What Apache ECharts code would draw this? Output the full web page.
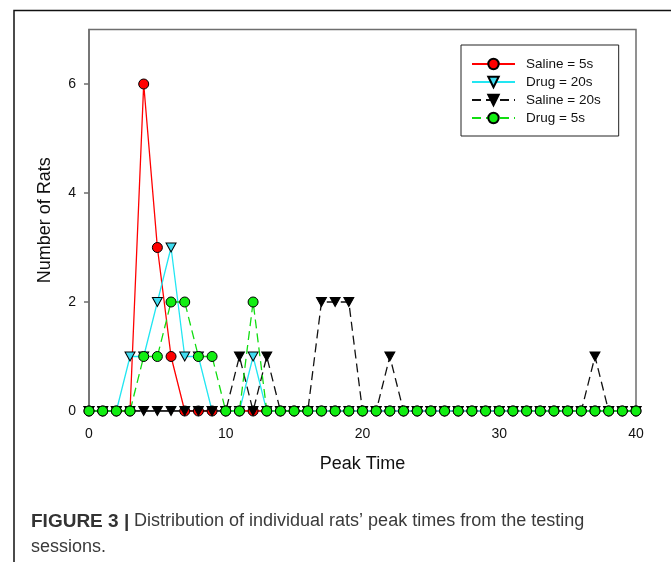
<!DOCTYPE html>
<html>
<head>
<meta charset="utf-8">
<script src="https://cdn.jsdelivr.net/npm/echarts@6/dist/echarts.min.js"></script>
<style>
html,body{margin:0;padding:0;background:#fff;}
#chart{width:671px;height:562px;}
</style>
</head>
<body>
<div id="chart"></div>
<script>
// Data
var peakTimes = [0,1,2,3,4,5,6,7,8,9,10,11,12,13,14,15,16,17,18,19,20,21,22,23,24,25,26,27,28,29,30,31,32,33,34,35,36,37,38,39,40];
var saline5  = [0,0,0,0,6,3,1,0,0,0, 0,0,0,0,0,0,0,0,0,0, 0,0,0,0,0,0,0,0,0,0, 0,0,0,0,0,0,0,0,0,0, 0];
var drug20   = [0,0,0,1,1,2,3,1,1,0, 0,0,1,0,0,0,0,0,0,0, 0,0,0,0,0,0,0,0,0,0, 0,0,0,0,0,0,0,0,0,0, 0];
var saline20 = [0,0,0,0,0,0,0,0,0,0, 0,1,0,1,0,0,0,2,2,2, 0,0,1,0,0,0,0,0,0,0, 0,0,0,0,0,0,0,1,0,0, 0];
var drug5    = [0,0,0,0,1,1,2,2,1,1, 0,0,2,0,0,0,0,0,0,0, 0,0,0,0,0,0,0,0,0,0, 0,0,0,0,0,0,0,0,0,0, 0];
var seriesNames = ['Saline = 5s', 'Drug = 20s', 'Saline = 20s', 'Drug = 5s'];
var xTicks = [0, 10, 20, 30, 40];
var yTicks = [0, 2, 4, 6];

function pairs(vals) { return peakTimes.map(function (x, i) { return [x, vals[i]]; }); }

var FONT = 'Arial, "Liberation Sans", sans-serif';
var chart = echarts.init(document.getElementById('chart'), null, {renderer: 'canvas'});

function lineSeries(name, vals, color, fill, symbol, rot, dashed) {
  return {
    name: name, type: 'line', data: pairs(vals),
    symbol: symbol, symbolSize: symbol === 'circle' ? 10 : [10, 9], symbolRotate: rot,
    showAllSymbol: true, animation: false,
    lineStyle: {color: color, width: 1.3, type: dashed ? [9, 5] : 'solid'},
    itemStyle: {color: fill, borderColor: '#000', borderWidth: 1},
    emphasis: {disabled: true}
  };
}

chart.setOption({
  backgroundColor: '#fff',
  animation: false,
  grid: {left: 89, top: 29.5, right: 35, bottom: 151, show: true, borderColor: '#6e6e6e', borderWidth: 1.5},
  xAxis: {
    type: 'value', min: 0, max: 40, interval: 10,
    name: 'Peak Time', nameLocation: 'middle', nameGap: 44,
    nameTextStyle: {fontFamily: FONT, fontSize: 18, color: '#111'},
    axisLine: {show: true, lineStyle: {color: '#6e6e6e', width: 1.5}},
    axisTick: {show: false},
    axisLabel: {fontFamily: FONT, fontSize: 14, color: '#111', margin: 16, customValues: xTicks},
    splitLine: {show: false}
  },
  yAxis: {
    type: 'value', min: 0, max: 7,
    name: 'Number of Rats', nameLocation: 'middle', nameGap: 35,
    nameTextStyle: {fontFamily: FONT, fontSize: 18, color: '#111'},
    axisLine: {show: true, lineStyle: {color: '#6e6e6e', width: 1.5}},
    axisTick: {show: true, inside: false, length: 5, lineStyle: {color: '#6e6e6e', width: 1.5}, customValues: yTicks},
    axisLabel: {fontFamily: FONT, fontSize: 14, color: '#111', margin: 13, customValues: yTicks},
    splitLine: {show: false}
  },
  legend: {
    left: 461, top: 45,
    orient: 'vertical',
    data: seriesNames,
    backgroundColor: '#fff',
    borderColor: '#222', borderWidth: 1,
    padding: [12, 18, 11, 10],
    itemWidth: 43, itemHeight: 13, itemGap: 4,
    selectedMode: false,
    textStyle: {fontFamily: FONT, fontSize: 13.5, color: '#111', lineHeight: 13, padding: [0, 0, 0, 6]}
  },
  graphic: [
    {type: 'rect', shape: {x: 14, y: 10.5, width: 700, height: 600}, style: {fill: null, stroke: '#111', lineWidth: 1.5}, silent: true},
    {type: 'text', left: 31, top: 512, style: {text: 'FIGURE 3 |', fontFamily: FONT, fontSize: 19, fontWeight: 'bold', fill: '#333'}},
    {type: 'text', left: 134, top: 512, style: {text: 'Distribution of individual rats\u2019 peak times from the testing', fontFamily: FONT, fontSize: 18, fill: '#3a3a3a'}},
    {type: 'text', left: 31, top: 538, style: {text: 'sessions.', fontFamily: FONT, fontSize: 18, fill: '#3a3a3a'}}
  ],
  series: [
    lineSeries(seriesNames[0], saline5, '#ff0000', '#ff0000', 'circle', 0, false),
    lineSeries(seriesNames[1], drug20, '#22e6f2', '#40dcf0', 'triangle', 180, false),
    lineSeries(seriesNames[2], saline20, '#111111', '#000000', 'triangle', 180, true),
    lineSeries(seriesNames[3], drug5, '#11dd11', '#11ee11', 'circle', 0, true)
  ]
});
</script>
</body>
</html>
